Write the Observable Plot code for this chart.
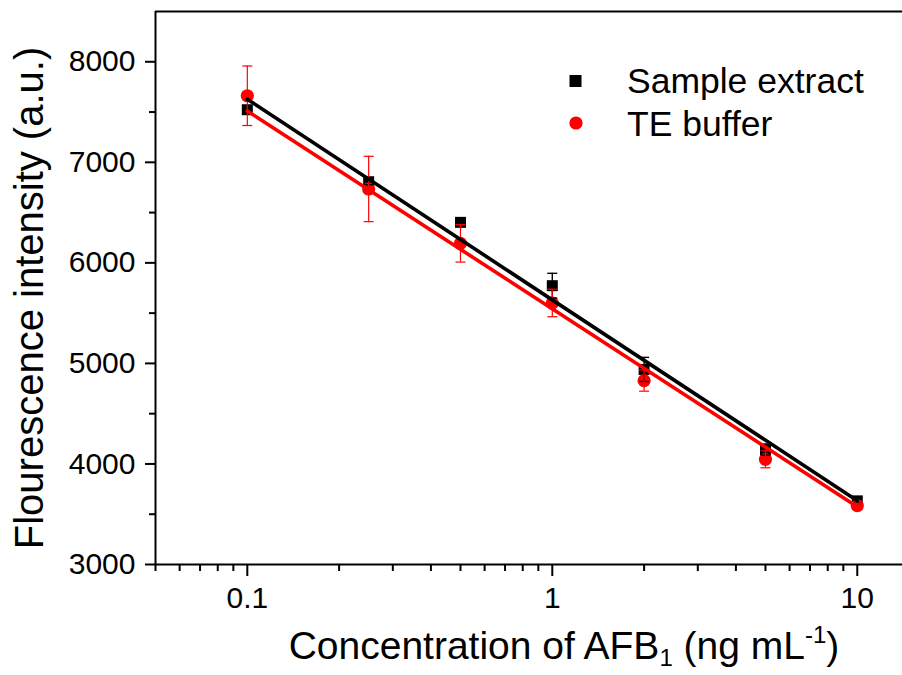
<!DOCTYPE html>
<html>
<head>
<meta charset="utf-8">
<script src="https://cdn.jsdelivr.net/npm/d3@7"></script>
<script src="https://cdn.jsdelivr.net/npm/@observablehq/plot@0.6"></script>
<style>
  html, body { margin: 0; padding: 0; background: #fff; overflow: hidden; }
  #chart { position: relative; width: 902px; height: 675px; }
</style>
</head>
<body>
<div id="chart"></div>
<script>
// ---- data ----
const conc = [0.1, 0.25, 0.5, 1, 2, 5, 10];               // ng mL^-1
const sampleExtract = [7523, 6807, 6403, 5773, 4940, 4143, 3633];
const sampleErr     = [30, 30, 40, 123, 120, 55, 25];
const teBuffer      = [7662, 6735, 6194, 5601, 4829, 4046, 3586];
const teErr         = [296, 325, 186, 137, 105, 84, 20];

// fitted lines (values at the ends of the fit)
const fitConc   = [0.1, 10];
const fitSample = [7628, 3635];
const fitTE     = [7510, 3575];

// axis ticks
const xMajor = [0.1, 1, 10];
const xMinor = [0.05, 0.06, 0.07, 0.08, 0.09, 0.2, 0.3, 0.4, 0.5, 0.6, 0.7, 0.8, 0.9, 2, 3, 4, 5, 6, 7, 8, 9];
const yMajor = [3000, 4000, 5000, 6000, 7000, 8000];
const yMinor = [3500, 4500, 5500, 6500, 7500];

const seriesNames = ["Sample extract", "TE buffer"];

// ---- tables ----
const sRows = conc.map((c, i) => ({conc: c, v: sampleExtract[i], lo: sampleExtract[i] - sampleErr[i], hi: sampleExtract[i] + sampleErr[i]}));
const tRows = conc.map((c, i) => ({conc: c, v: teBuffer[i], lo: teBuffer[i] - teErr[i], hi: teBuffer[i] + teErr[i]}));
const sFit = fitConc.map((c, i) => ({conc: c, v: fitSample[i]}));
const tFit = fitConc.map((c, i) => ({conc: c, v: fitTE[i]}));
const caps = (rows) => rows.flatMap(d => [{conc: d.conc, v: d.lo}, {conc: d.conc, v: d.hi}]);

// custom horizontal cap symbol
const capSymbol = {
  draw(ctx, size) {
    const r = Math.sqrt(size / Math.PI);
    ctx.moveTo(-r, 0);
    ctx.lineTo(r, 0);
  }
};

const RED = "#ff0000";
const font = "'Liberation Sans', Arial, sans-serif";

const svg = Plot.plot({
  width: 902,
  height: 675,
  marginLeft: 155,
  marginRight: 0,
  marginTop: 11,
  marginBottom: 111,
  x: {type: "log", domain: [0.05, 14.07]},
  y: {domain: [3000, 8500]},
  style: {fontFamily: font, fontSize: "30px", color: "#000", background: "#fff"},
  marks: [
    Plot.axisX({ticks: xMajor, tickSize: 12, tickPadding: 10, strokeWidth: 2, tickFormat: d => String(d), fontSize: 30, label: null}),
    Plot.axisX({ticks: xMinor, tickSize: 7, strokeWidth: 2, tickFormat: () => "", label: null}),
    Plot.axisY({ticks: yMajor, tickSize: 10, tickPadding: 10, strokeWidth: 2, tickFormat: d => String(d), fontSize: 30, label: null}),
    Plot.axisY({ticks: yMinor, tickSize: 6, strokeWidth: 2, tickFormat: () => "", label: null}),
    Plot.ruleY([3000, 8500], {stroke: "#000", strokeWidth: 2}),
    Plot.ruleX([0.05], {stroke: "#000", strokeWidth: 2}),

    // points
    Plot.dot(sRows, {x: "conc", y: "v", symbol: "square", r: 6.2, fill: "#000", stroke: "none"}),
    Plot.dot(tRows, {x: "conc", y: "v", symbol: "circle", r: 6.6, fill: RED, stroke: "none"}),

    // error bars
    Plot.ruleX(sRows, {x: "conc", y1: "lo", y2: "hi", stroke: "#000", strokeWidth: 1.4}),
    Plot.dot(caps(sRows), {x: "conc", y: "v", symbol: capSymbol, r: 5, stroke: "#000", strokeWidth: 1.4, fill: "none"}),
    Plot.ruleX(tRows, {x: "conc", y1: "lo", y2: "hi", stroke: RED, strokeWidth: 1.2}),
    Plot.dot(caps(tRows), {x: "conc", y: "v", symbol: capSymbol, r: 5, stroke: RED, strokeWidth: 1.2, fill: "none"}),

    // fitted lines
    Plot.line(tFit, {x: "conc", y: "v", stroke: RED, strokeWidth: 3.6}),
    Plot.line(sFit, {x: "conc", y: "v", stroke: "#000", strokeWidth: 3.6})
  ]
});

document.getElementById("chart").appendChild(svg);

const s = d3.select(svg);

// x axis title with subscript and superscript
const xt = s.append("text")
  .attr("x", 564).attr("y", 659)
  .attr("text-anchor", "middle")
  .attr("font-family", font).attr("font-size", 39).attr("fill", "#000");
xt.append("tspan").text("Concentration of AFB");
xt.append("tspan").attr("font-size", 24).attr("dy", 7).text("1");
xt.append("tspan").attr("dy", -7).text(" (ng mL");
xt.append("tspan").attr("font-size", 24).attr("dy", -16).text("-1");
xt.append("tspan").attr("dy", 16).text(")");

// y axis title
s.append("text")
  .attr("transform", "translate(43,298) rotate(-90)")
  .attr("text-anchor", "middle")
  .attr("font-family", font).attr("font-size", 40).attr("fill", "#000")
  .text("Flourescence intensity (a.u.)");

// legend
const lg = s.append("g").attr("text-anchor", "start");
lg.append("path")
  .attr("transform", "translate(575.5,81)")
  .attr("d", d3.symbol(d3.symbolSquare, 12 * 12)())
  .attr("fill", "#000");
lg.append("path")
  .attr("transform", "translate(576,123)")
  .attr("d", d3.symbol(d3.symbolCircle, Math.PI * 6.6 * 6.6)())
  .attr("fill", RED);
lg.append("text").attr("x", 627).attr("y", 93).attr("text-anchor", "start").attr("font-family", font).attr("font-size", 35.5).attr("fill", "#000").text(seriesNames[0]);
lg.append("text").attr("x", 627).attr("y", 136).attr("text-anchor", "start").attr("font-family", font).attr("font-size", 35.5).attr("fill", "#000").text(seriesNames[1]);
</script>
</body>
</html>
